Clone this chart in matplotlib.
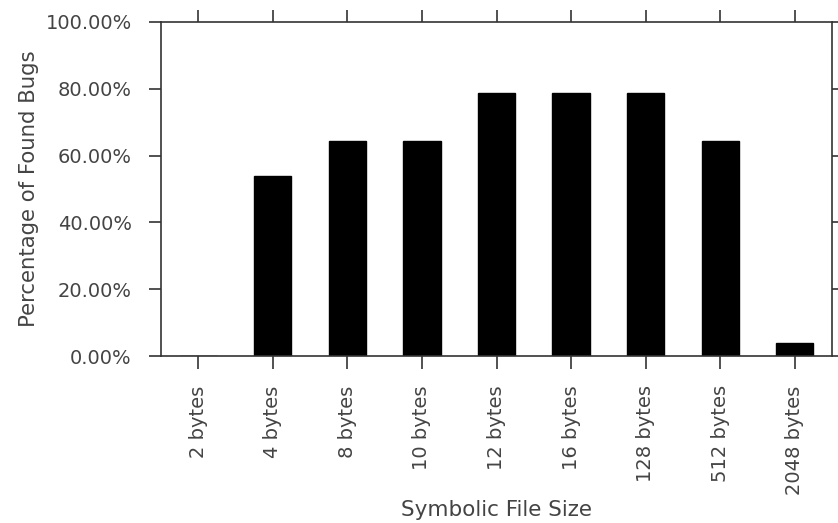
import matplotlib
matplotlib.use("Agg")
import matplotlib.pyplot as plt
import numpy as np

# data
sizes = ['2 bytes', '4 bytes', '8 bytes', '10 bytes', '12 bytes',
         '16 bytes', '128 bytes', '512 bytes', '2048 bytes']
found_pct = [0.0, 53.8, 64.3, 64.3, 78.6, 78.6, 78.6, 64.3, 3.8]

textcol = '#444444'
plt.rcParams['font.family'] = 'DejaVu Sans'
plt.rcParams['font.size'] = 14

fig = plt.figure(figsize=(8.38, 5.23), dpi=100)
ax = fig.add_axes([0.192, 0.319, 0.801, 0.639])

x = np.arange(len(sizes))
ax.bar(x, found_pct, width=0.5, color='black', edgecolor='black')

ax.set_xlim(-0.5, len(sizes) - 0.5)
ax.set_ylim(0, 100)
ax.set_yticks(np.arange(0, 101, 20))
ax.set_yticklabels(['%.2f%%' % v for v in np.arange(0, 101, 20)])
ax.set_xticks(x)
ax.set_xticklabels(sizes, rotation=90)

ax.tick_params(direction='out', length=9, width=1.2, colors='#333333',
               labelcolor=textcol, top=True, right=True, pad=12)
for s in ax.spines.values():
    s.set_color('#333333')
    s.set_linewidth(1.2)

ax.set_ylabel('Percentage of Found Bugs', color=textcol, fontsize=15.3, labelpad=5)
ax.set_xlabel('Symbolic File Size', color=textcol, fontsize=15.5, labelpad=4)

fig.savefig('out.png', dpi=100)
